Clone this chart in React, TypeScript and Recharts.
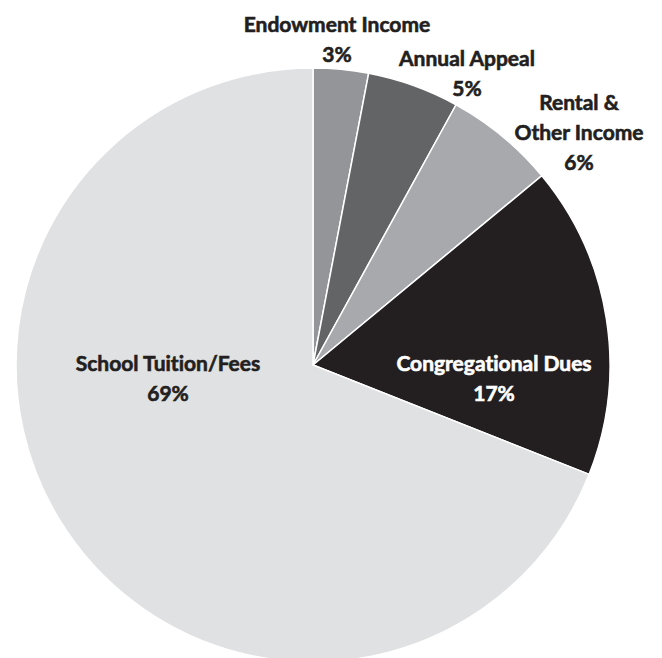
import { PieChart, Pie, Cell } from 'recharts'

document.body.style.margin = '0'

const SOURCES = ['Endowment Income', 'Annual Appeal', 'Rental & Other Income', 'Congregational Dues', 'School Tuition/Fees']
const SHARES = [3, 5, 6, 17, 69]
const LABEL_LINES = [
  ['Endowment Income'],
  ['Annual Appeal'],
  ['Rental &', 'Other Income'],
  ['Congregational Dues'],
  ['School Tuition/Fees'],
]

const COLORS = ['#939598', '#636466', '#a7a9ac', '#231f20', '#e0e1e3']
const TEXT_COLORS = ['#231f20', '#231f20', '#231f20', '#ffffff', '#231f20']
// label block centre, offset from the pie centre (px)
const LABEL_OFFSET: [number, number][] = [
  [24, -327],
  [154, -293],
  [266, -234],
  [181, 12],
  [-145, 12],
]

const data = SOURCES.map((name, i) => ({ name, value: SHARES[i], lines: LABEL_LINES[i] }))

const LINE_H = 30
const FONT = 'Lato, "Noto Sans", sans-serif'

// eslint-disable-next-line @typescript-eslint/no-explicit-any
function renderLabel(props: any) {
  const { cx, cy, index, payload } = props
  const [dx, dy] = LABEL_OFFSET[index]
  const lines: string[] = [...(payload.lines ?? payload.payload?.lines ?? []), `${SHARES[index]}%`]
  const top = cy + dy - ((lines.length - 1) * LINE_H) / 2
  return (
    <text
      key={`lbl-${index}`}
      x={cx + dx}
      y={top}
      textAnchor="middle"
      dominantBaseline="central"
      fill={TEXT_COLORS[index]}
      stroke={TEXT_COLORS[index]}
      strokeWidth={0.6}
      style={{ fontFamily: FONT, fontWeight: 700, fontSize: 21, fontVariantLigatures: 'none' }}
    >
      {lines.map((l, k) => (
        <tspan key={k} x={cx + dx} y={top + k * LINE_H}>{l}</tspan>
      ))}
    </text>
  )
}

export default function App() {
  return (
    <div style={{ width: 662, height: 658, background: '#ffffff' }}>
      <PieChart width={662} height={658} margin={{ top: 0, right: 0, bottom: 0, left: 0 }}>
        <Pie
          data={data}
          dataKey="value"
          nameKey="name"
          cx={313}
          cy={365}
          outerRadius={297}
          startAngle={90}
          endAngle={-270}
          stroke="#ffffff"
          strokeWidth={1.5}
          label={renderLabel}
          labelLine={false}
          isAnimationActive={false}
        >
          {data.map((d, i) => (
            <Cell key={d.name} fill={COLORS[i]} />
          ))}
        </Pie>
      </PieChart>
    </div>
  )
}
